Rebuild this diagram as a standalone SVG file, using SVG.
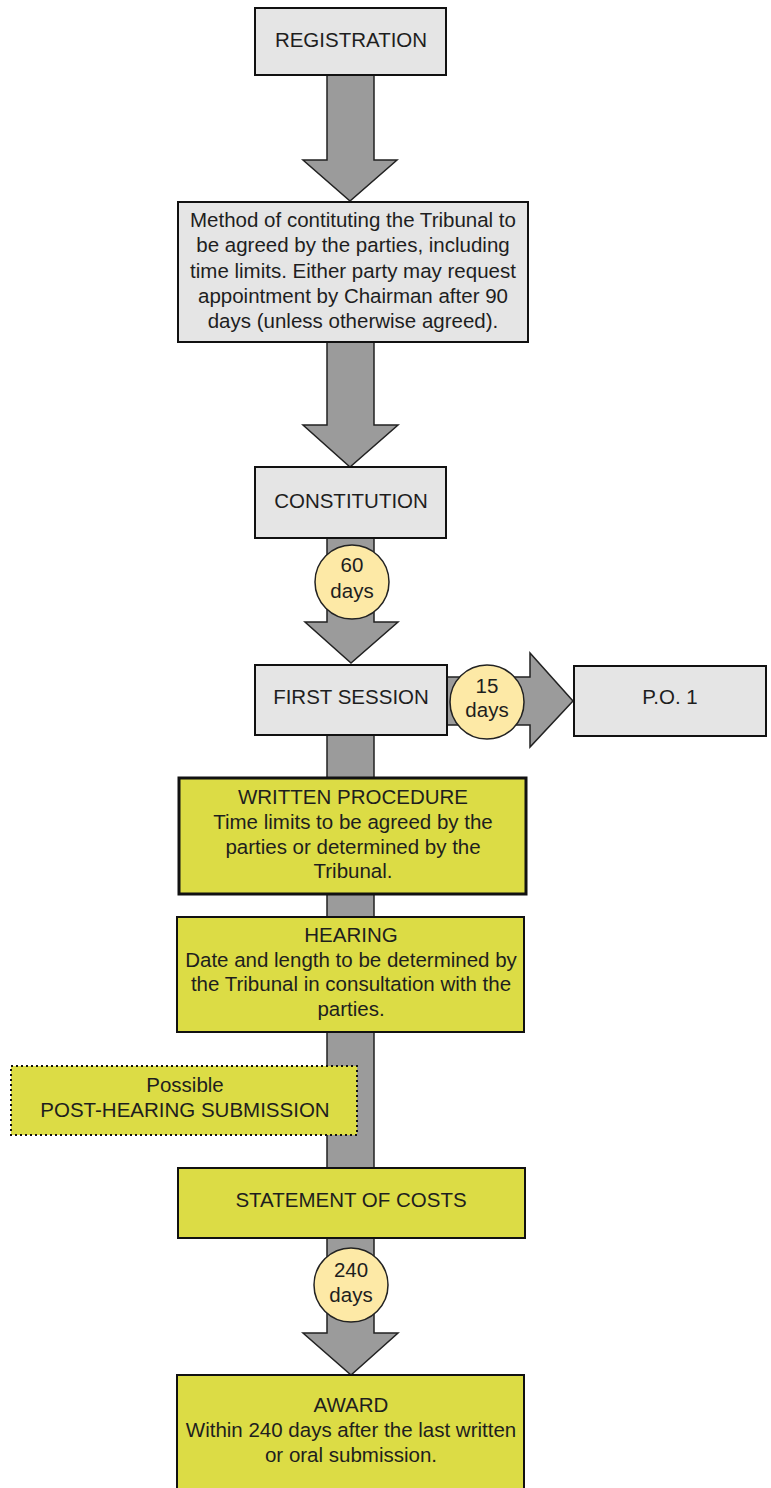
<svg xmlns="http://www.w3.org/2000/svg" width="771" height="1488" viewBox="0 0 771 1488">
<style>
text{font-family:"Liberation Sans",Arial,sans-serif;font-size:20.5px;fill:#1e1e1e;text-anchor:middle}
.grey{fill:#e5e5e5;stroke:#111;stroke-width:2}
.yel{fill:#dcdc45;stroke:#111;stroke-width:2}
.yel3{fill:#dcdc45;stroke:#111;stroke-width:3}
.dot{fill:#dcdc45;stroke:#111;stroke-width:2;stroke-dasharray:2 3}
.arr{fill:#9b9b9b;stroke:#222;stroke-width:1.5;stroke-linejoin:miter}
.lab{fill:#fde9a6;stroke:#222;stroke-width:1.5}
</style>
<rect width="771" height="1488" fill="#fff"/>
<g id="connectors">
<polygon class="arr" points="327,75 374,75 374,160 397,160 350,201 303,160 327,160"/>
<polygon class="arr" points="327,342 374,342 374,425 398,425 350,467 303,425 327,425"/>
<polygon class="arr" points="327,538 374,538 374,622 398,622 351,663 305,622 327,622"/>
<polygon class="arr" points="447,677 530,677 530,653 573,701 530,747 530,725 447,725"/>
<rect class="arr" x="327" y="735" width="47" height="43"/>
<rect class="arr" x="327" y="894" width="47" height="23"/>
<rect class="arr" x="327" y="1032" width="47" height="136"/>
<polygon class="arr" points="327,1238 374,1238 374,1333 398,1333 351,1375 303,1333 327,1333"/>
<g id="lab60"><circle class="lab" cx="352" cy="582" r="37"/><text x="352" y="572">60</text><text x="352" y="598">days</text></g>
<g id="lab15"><circle class="lab" cx="487" cy="702" r="37"/><text x="487" y="693">15</text><text x="487" y="717">days</text></g>
<g id="lab240"><circle class="lab" cx="351" cy="1285" r="37"/><text x="351" y="1277">240</text><text x="351" y="1302">days</text></g>
</g>
<g id="registration"><rect class="grey" x="255" y="8" width="191" height="67"/><text x="351" y="47">REGISTRATION</text></g>
<g id="method"><rect class="grey" x="178" y="202" width="350" height="140"/>
<text x="353" y="227">Method of contituting the Tribunal to</text>
<text x="353" y="252">be agreed by the parties, including</text>
<text x="353" y="278">time limits. Either party may request</text>
<text x="353" y="303">appointment by Chairman after 90</text>
<text x="353" y="328">days (unless otherwise agreed).</text></g>
<g id="constitution"><rect class="grey" x="255" y="467" width="191" height="71"/><text x="351" y="508">CONSTITUTION</text></g>
<g id="first-session"><rect class="grey" x="255" y="665" width="192" height="70"/><text x="351" y="704">FIRST SESSION</text></g>
<g id="po1"><rect class="grey" x="574" y="666" width="192" height="70"/><text x="670" y="704">P.O. 1</text></g>
<g id="written"><rect class="yel3" x="179" y="778" width="347" height="116"/>
<text x="353" y="804">WRITTEN PROCEDURE</text>
<text x="353" y="829">Time limits to be agreed by the</text>
<text x="353" y="854">parties or determined by the</text>
<text x="353" y="878">Tribunal.</text></g>
<g id="hearing"><rect class="yel" x="177" y="917" width="347" height="115"/>
<text x="351" y="942">HEARING</text>
<text x="351" y="967">Date and length to be determined by</text>
<text x="351" y="991">the Tribunal in consultation with the</text>
<text x="351" y="1016">parties.</text></g>
<g id="post-hearing"><rect class="dot" x="11" y="1066" width="346" height="69"/>
<text x="185" y="1092">Possible</text>
<text x="185" y="1117">POST-HEARING SUBMISSION</text></g>
<g id="costs"><rect class="yel" x="178" y="1168" width="347" height="70"/><text x="351" y="1207">STATEMENT OF COSTS</text></g>
<g id="award"><rect class="yel" x="177" y="1375" width="347" height="116"/>
<text x="351" y="1412">AWARD</text>
<text x="351" y="1437">Within 240 days after the last written</text>
<text x="351" y="1462">or oral submission.</text></g>
</svg>
